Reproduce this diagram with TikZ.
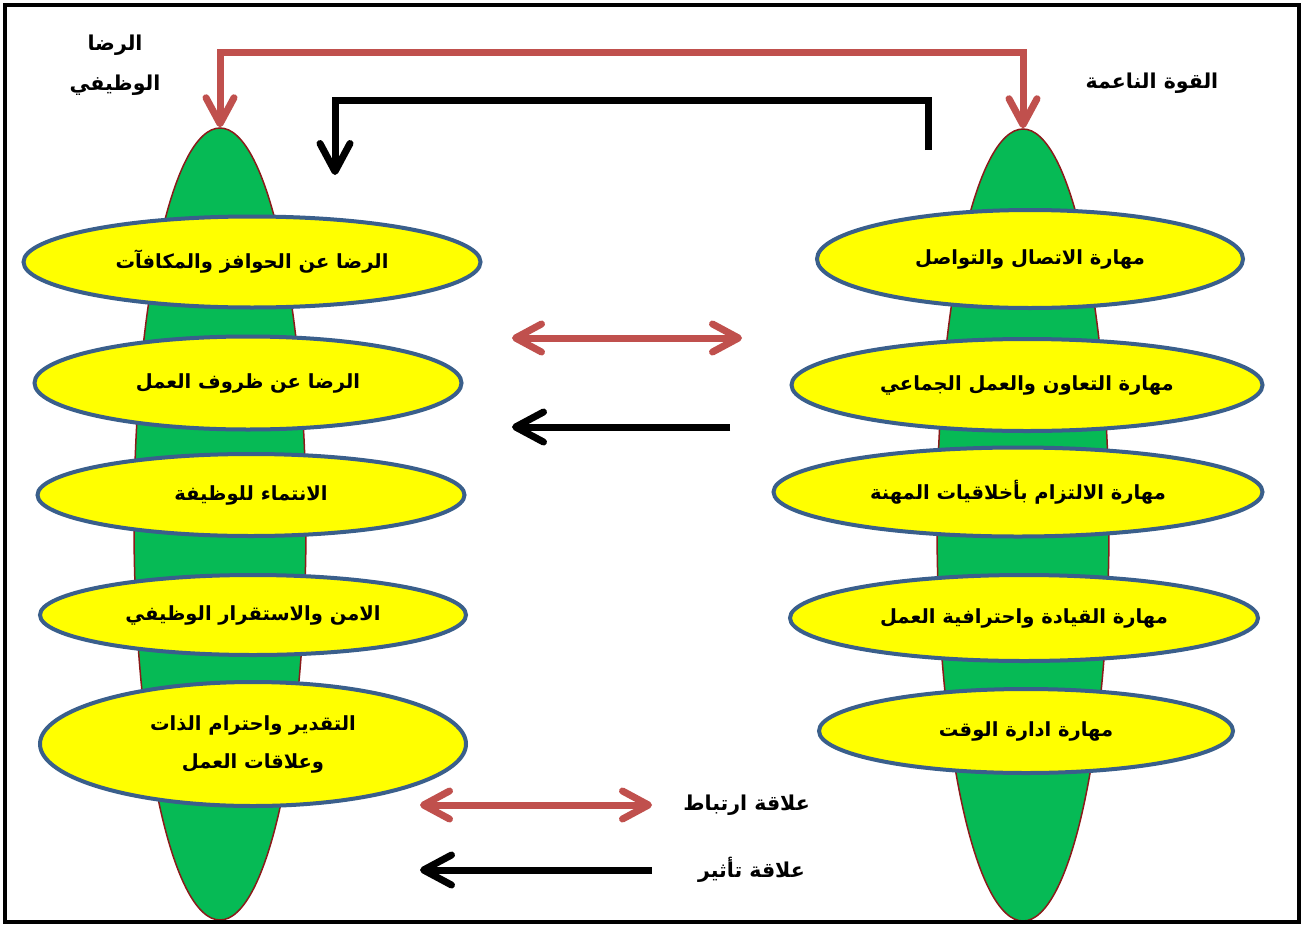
\documentclass[tikz,border=0pt]{standalone}
\usepackage{fontspec}
\usetikzlibrary{arrows.meta,shapes.geometric}
\TeXXeTstate=1
\newfontfamily\arabicfont[Script=Arabic]{DejaVu Sans}
\definecolor{arrred}{HTML}{C0504D}
\definecolor{leafgreen}{HTML}{06BA55}
\definecolor{leafedge}{HTML}{8B1A1A}
\definecolor{ovalblue}{HTML}{3A5F8B}
\definecolor{ovalfill}{HTML}{FFFF00}
\newcommand{\artxt}[1]{{\arabicfont\bfseries\beginR #1\endR}}
\begin{document}
\begin{tikzpicture}[x=1pt,y=-1pt,
  leaf/.style={ellipse, draw=leafedge, line width=1.5pt, fill=leafgreen, minimum width=172pt, minimum height=792pt, inner sep=0pt},
  oval/.style={ellipse, draw=ovalblue, line width=4pt, fill=ovalfill, inner sep=0pt, font=\fontsize{19.5}{38}\selectfont, align=center},
  title/.style={font=\fontsize{20.5}{40}\selectfont, align=center, inner sep=0pt},
  redarr/.style={draw=arrred, line width=7pt, {Straight Barb[length=26pt,width=28pt,round]}-{Straight Barb[length=26pt,width=28pt,round]}},
  blackarr/.style={draw=black, line width=7pt, -{Straight Barb[length=28pt,width=30pt,round]}}
]
\useasboundingbox (0,0) rectangle (1303,926);
\fill[white] (0,0) rectangle (1303,926);
\begin{scope}
  \clip (5,5) rectangle (1299,922);
  \node[leaf] (lgreen) at (220,524) {};
  \node[leaf] (rgreen) at (1023,525) {};
\end{scope}
% left ovals
\node[oval, minimum width=457pt, minimum height=91pt] (l1) at (252,262) {\artxt{الرضا عن الحوافز والمكافآت}};
\node[oval, minimum width=427pt, minimum height=93pt] (l2) at (248,383) {\artxt{الرضا عن ظروف العمل}};
\node[oval, minimum width=427pt, minimum height=82pt] (l3) at (251,495) {\artxt{الانتماء للوظيفة}};
\node[oval, minimum width=426pt, minimum height=80pt] (l4) at (253,615) {\artxt{الامن والاستقرار الوظيفي}};
\node[oval, minimum width=426pt, minimum height=124pt] (l5) at (253,744) {\artxt{التقدير واحترام الذات}\\\artxt{وعلاقات العمل}};
% right ovals
\node[oval, minimum width=426pt, minimum height=98pt] (r1) at (1030,259) {\artxt{مهارة الاتصال والتواصل}};
\node[oval, minimum width=471pt, minimum height=92pt] (r2) at (1027,385) {\artxt{مهارة التعاون والعمل الجماعي}};
\node[oval, minimum width=489pt, minimum height=89pt] (r3) at (1018,492) {\artxt{مهارة الالتزام بأخلاقيات المهنة}};
\node[oval, minimum width=468pt, minimum height=86pt] (r4) at (1024,618) {\artxt{مهارة القيادة واحترافية العمل}};
\node[oval, minimum width=414pt, minimum height=84pt] (r5) at (1026,731) {\artxt{مهارة ادارة الوقت}};
% titles
\node[title] (ltitle) at (115,65) {\artxt{الرضا}\\\artxt{الوظيفي}};
\node[title] (rtitle) at (1152,83) {\artxt{القوة الناعمة}};
% top connectors
\coordinate (rtop) at (222,52);
\draw[redarr] (lgreen.north) -- (lgreen.north |- rtop) -| (rgreen.north);
\coordinate (bstart) at (928,150);
\coordinate (bcorner) at (928,100);
\coordinate (bend) at (335,175);
\draw[blackarr] (bstart) -- (bcorner) -| (bend);
% middle arrows
\coordinate (m1a) at (512,338);
\coordinate (m1b) at (742,338);
\draw[redarr] (m1a) -- (m1b);
\coordinate (m2a) at (730,427);
\coordinate (m2b) at (512,427);
\draw[blackarr] (m2a) -- (m2b);
% legend
\coordinate (g1a) at (420,805);
\coordinate (g1b) at (652,805);
\draw[redarr] (g1a) -- (g1b);
\node[title, anchor=east] (gt1) at (810,805) {\artxt{علاقة ارتباط}};
\coordinate (g2a) at (652,870);
\coordinate (g2b) at (420,870);
\draw[blackarr] (g2a) -- (g2b);
\node[title, anchor=east] (gt2) at (805,870) {\artxt{علاقة تأثير}};
% frame
\draw[line width=4pt] (5,5) rectangle (1299,922);
\end{tikzpicture}
\end{document}
